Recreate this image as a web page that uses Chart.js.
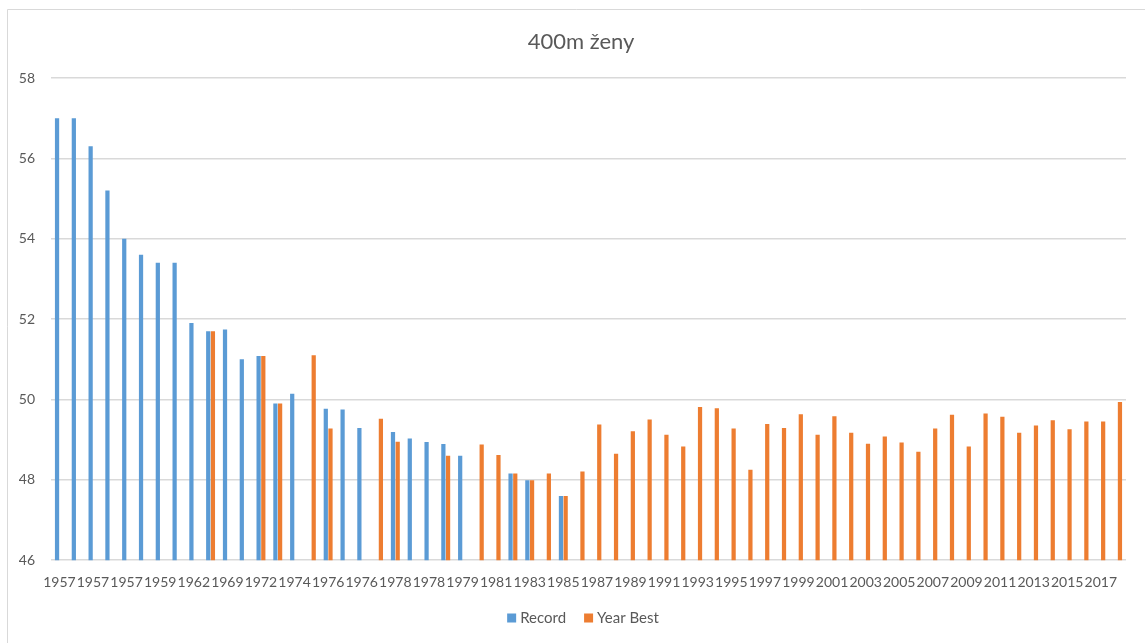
<!DOCTYPE html>
<html>
<head>
<meta charset="utf-8">
<script src="https://cdn.jsdelivr.net/npm/chart.js@4"></script>
<style>
  html, body { margin: 0; padding: 0; background: #fff; }
  #wrap { position: relative; width: 1145px; height: 643px; }
</style>
</head>
<body>
<div id="wrap"><canvas id="chart" width="1145" height="643"></canvas></div>
<script>
// category labels (years), one per bar slot
const years = [
  '1957', '1957', '1957', '1957', '1957', '1957', '1959', '1962', '1962', '1969',
  '1969', '1970', '1972', '1974', '1974', '1975', '1976', '1976', '1976', '1977',
  '1978', '1978', '1978', '1979', '1979', '1980', '1981', '1982', '1983', '1984',
  '1985', '1986', '1987', '1988', '1989', '1990', '1991', '1992', '1993', '1994',
  '1995', '1996', '1997', '1998', '1999', '2000', '2001', '2002', '2003', '2004',
  '2005', '2006', '2007', '2008', '2009', '2010', '2011', '2012', '2013', '2014',
  '2015', '2016', '2017', '2018'
];

const record = [
  57.0, 57.0, 56.3, 55.2, 54.0, 53.6, 53.4, 53.4, 51.9, 51.7,
  51.74, 51.0, 51.08, 49.9, 50.14, null, 49.77, 49.75, 49.29, null,
  49.19, 49.03, 48.94, 48.89, 48.6, null, null, 48.16, 47.99, null,
  47.6, null, null, null, null, null, null, null, null, null,
  null, null, null, null, null, null, null, null, null, null,
  null, null, null, null, null, null, null, null, null, null,
  null, null, null, null
];

const yearBest = [
  null, null, null, null, null, null, null, null, null, 51.7,
  null, null, 51.08, 49.9, null, 51.1, 49.28, null, null, 49.52,
  48.95, null, null, 48.6, null, 48.88, 48.62, 48.16, 47.99, 48.16,
  47.6, 48.21, 49.38, 48.65, 49.21, 49.5, 49.12, 48.83, 49.81, 49.78,
  49.28, 48.25, 49.39, 49.29, 49.63, 49.12, 49.58, 49.17, 48.9, 49.08,
  48.93, 48.7, 49.28, 49.62, 48.83, 49.65, 49.57, 49.17, 49.35, 49.48,
  49.26, 49.45, 49.45, 49.94
];

const chartTitle = '400m ženy';
const textColor = '#595959';
const gridColor = '#d9d9d9';
const fontFamily = 'Lato, "Open Sans", sans-serif';

// white background, light frame on the left and top, and the title
const framePlugin = {
  id: 'frame',
  beforeDraw(chart) {
    const ctx = chart.ctx;
    ctx.save();
    ctx.fillStyle = '#ffffff';
    ctx.fillRect(0, 0, chart.width, chart.height);
    ctx.strokeStyle = gridColor;
    ctx.lineWidth = 1;
    ctx.beginPath();
    ctx.moveTo(7.5, chart.height);
    ctx.lineTo(7.5, 9.5);
    ctx.lineTo(chart.width, 9.5);
    ctx.stroke();
    ctx.fillStyle = textColor;
    ctx.font = '22px ' + fontFamily;
    ctx.textAlign = 'center';
    ctx.textBaseline = 'middle';
    ctx.fillText(chartTitle, 581, 42);
    ctx.restore();
  },
  // legend under the axis, centred like the spreadsheet one
  afterDraw(chart) {
    const ctx = chart.ctx;
    const sets = chart.data.datasets;
    const box = 9, boxGap = 4, itemGap = 18, midY = 618, centerX = 583;
    ctx.save();
    ctx.font = '15px ' + fontFamily;
    ctx.textBaseline = 'middle';
    ctx.textAlign = 'left';
    let total = 0;
    sets.forEach(function(ds, i) {
      total += box + boxGap + ctx.measureText(ds.label).width;
      if (i < sets.length - 1) total += itemGap;
    });
    let x = centerX - total / 2;
    sets.forEach(function(ds) {
      ctx.fillStyle = ds.backgroundColor;
      ctx.fillRect(x, midY - box / 2, box, box);
      x += box + boxGap;
      ctx.fillStyle = textColor;
      ctx.fillText(ds.label, x, midY);
      x += ctx.measureText(ds.label).width + itemGap;
    });
    ctx.restore();
  }
};

new Chart(document.getElementById('chart'), {
  type: 'bar',
  data: {
    labels: years,
    datasets: [
      {
        label: 'Record',
        data: record,
        backgroundColor: '#5B9BD5',
        categoryPercentage: 0.56,
        barPercentage: 0.9
      },
      {
        label: 'Year Best',
        data: yearBest,
        backgroundColor: '#ED7D31',
        categoryPercentage: 0.56,
        barPercentage: 0.9
      }
    ]
  },
  options: {
    responsive: false,
    animation: false,
    layout: { autoPadding: false, padding: { top: 78, left: 19, right: 19, bottom: 46 } },
    plugins: {
      title: { display: false },
      legend: { display: false },
      tooltip: { enabled: false }
    },
    scales: {
      x: {
        grid: { display: false },
        border: { display: false },
        afterFit: function(scale) {
          scale.paddingLeft = 0;
          scale.paddingRight = 0;
        },
        ticks: {
          autoSkip: false,
          maxRotation: 0,
          minRotation: 0,
          padding: 6,
          color: textColor,
          font: { family: fontFamily, size: 14 },
          callback: function(value, index) {
            return index % 2 === 0 ? years[index] : '';
          }
        }
      },
      y: {
        min: 46,
        max: 58,
        border: { display: false },
        grid: { color: gridColor, lineWidth: 1.5, drawTicks: false },
        afterFit: function(scale) {
          scale.width = 32;
        },
        ticks: {
          stepSize: 2,
          padding: 16,
          color: textColor,
          font: { family: fontFamily, size: 14 }
        }
      }
    }
  },
  plugins: [framePlugin]
});
</script>
</body>
</html>
